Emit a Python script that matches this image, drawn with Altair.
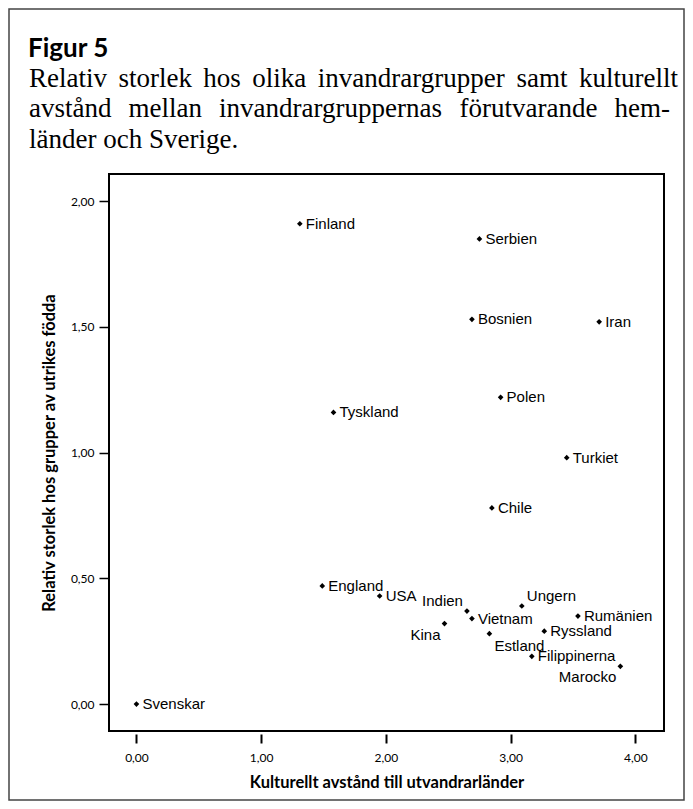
import json
import altair as alt
import pandas as pd

# ---------------- data ----------------
countries = ["Svenskar", "Finland", "Tyskland", "Serbien", "Bosnien", "Iran", "Polen",
             "Turkiet", "Chile", "England", "USA", "Indien", "Vietnam", "Kina",
             "Estland", "Ungern", "Rumänien", "Ryssland", "Filippinerna", "Marocko"]
distance = [0.00, 1.31, 1.58, 2.75, 2.69, 3.71, 2.92,
            3.45, 2.85, 1.49, 1.95, 2.65, 2.69, 2.47,
            2.83, 3.09, 3.54, 3.27, 3.17, 3.88]
rel_size = [0.00, 1.91, 1.16, 1.85, 1.53, 1.52, 1.22,
            0.98, 0.78, 0.47, 0.43, 0.37, 0.34, 0.32,
            0.28, 0.39, 0.35, 0.29, 0.19, 0.15]

x_ticks = [0, 1, 2, 3, 4]
y_ticks = [0, 0.5, 1, 1.5, 2]

title_text = "Figur 5"
subtitle_lines = [
    "Relativ storlek hos olika invandrargrupper samt kulturellt",
    "avstånd mellan invandrargruppernas förutvarande hem-",
    "länder och Sverige.",
]
x_title = "Kulturellt avstånd till utvandrarländer"
y_title = "Relativ storlek hos grupper av utrikes födda"

# label placement groups (layout only)
above_left = ["Indien"]
below_left = ["Kina", "Marocko"]
above_right = ["Ungern"]
below_right = ["Estland"]

df = pd.DataFrame({"land": countries, "avstand": distance, "storlek": rel_size})

W, H = 555, 557
xscale = alt.Scale(domain=[-0.22, 4.23], nice=False, zero=False)
yscale = alt.Scale(domain=[-0.107, 2.108], nice=False, zero=False)
lab_expr = "replace(format(datum.value, '.2f'), '.', ',')"

xaxis = alt.Axis(values=x_ticks, labelExpr=lab_expr, domain=False, grid=False,
                 tickSize=9, tickWidth=2, tickColor="black", offset=3,
                 labelFont="Lato", labelFontSize=12, labelColor="black", labelPadding=9,
                 title=x_title, titleFont="Lato", titleFontWeight="bold",
                 titleFontSize=16.5, titleColor="black", titlePadding=11)
yaxis = alt.Axis(values=y_ticks, labelExpr=lab_expr, domain=False, grid=False,
                 tickSize=10, tickWidth=1.5, tickColor="black",
                 labelFont="Lato", labelFontSize=12, labelColor="black", labelPadding=5,
                 title=y_title, titleFont="Lato", titleFontWeight="bold",
                 titleFontSize=16.5, titleColor="black", titlePadding=13)

base = alt.Chart(df)
enc = dict(x=alt.X("avstand:Q", scale=xscale, axis=xaxis),
           y=alt.Y("storlek:Q", scale=yscale, axis=yaxis))

points = base.mark_point(shape="diamond", filled=True, size=32, color="black",
                         opacity=1).encode(**enc)

special = above_left + below_left + above_right + below_right


def label_layer(names, align, dx, dy, exclude=False):
    lst = json.dumps(names, ensure_ascii=False)
    expr = f"indexof({lst}, datum.land) {'<' if exclude else '>='} 0"
    return base.transform_filter(expr).mark_text(
        font="Liberation Sans", fontSize=15, color="black", align=align,
        baseline="middle", dx=dx, dy=dy
    ).encode(x=alt.X("avstand:Q", scale=xscale), y=alt.Y("storlek:Q", scale=yscale),
             text="land:N")


labels = [
    label_layer(special, "left", 6, 0, exclude=True),
    label_layer(above_left, "right", -4, -10),
    label_layer(below_left, "right", -4, 11),
    label_layer(above_right, "left", 5, -10),
    label_layer(below_right, "left", 5, 12),
]

# ---------------- heading (justified like the printed caption) ----------------
TIMES = {"a": 444, "b": 500, "c": 444, "d": 500, "e": 444, "f": 333, "g": 500, "h": 500,
         "i": 278, "j": 278, "k": 500, "l": 278, "m": 778, "n": 500, "o": 500, "p": 500,
         "q": 500, "r": 333, "s": 389, "t": 278, "u": 500, "v": 500, "w": 722, "x": 500,
         "y": 500, "z": 444, "R": 667, "S": 556, "å": 444, "ä": 444, "ö": 500, "-": 333,
         ".": 250, " ": 250}
SUB_FS = 27


def tw(s):
    return sum(TIMES.get(c, 500) for c in s) / 1000 * SUB_FS


def single_text(t, px, py, **kw):
    return alt.Chart(pd.DataFrame({"t": [t]})).mark_text(**kw).encode(
        text="t:N", x=alt.value(px), y=alt.value(py))


head_layers = [single_text(title_text, -81, -117, font="Lato", fontWeight="bold",
                           fontSize=26, align="left", baseline="alphabetic", color="black")]
x0 = -80
line_y = [-87, -57, -26]
line_end = [569, 561, None]
for line, ly, xend in zip(subtitle_lines, line_y, line_end):
    sub_kw = dict(font="Liberation Serif", fontSize=SUB_FS, align="left",
                  baseline="alphabetic", color="black")
    if xend is None:
        head_layers.append(single_text(line, x0, ly, **sub_kw))
        continue
    words = line.split(" ")
    widths = [tw(w) for w in words]
    gap = (xend - x0 - sum(widths)) / (len(words) - 1)
    px = x0
    for w, ww in zip(words, widths):
        head_layers.append(single_text(w, px, ly, **sub_kw))
        px += ww + gap

frame = alt.Chart(pd.DataFrame({"a": [0]})).mark_rect(
    fillOpacity=0, stroke="#444", strokeWidth=1.5
).encode(x=alt.value(-100), x2=alt.value(575), y=alt.value(-165), y2=alt.value(626))

chart = alt.layer(frame, *head_layers, points, *labels).properties(
    width=W, height=H, padding=0, background="white"
).configure_view(stroke="black", strokeWidth=2)

chart.save("out.html", embed_options={"renderer": "svg", "actions": False})
